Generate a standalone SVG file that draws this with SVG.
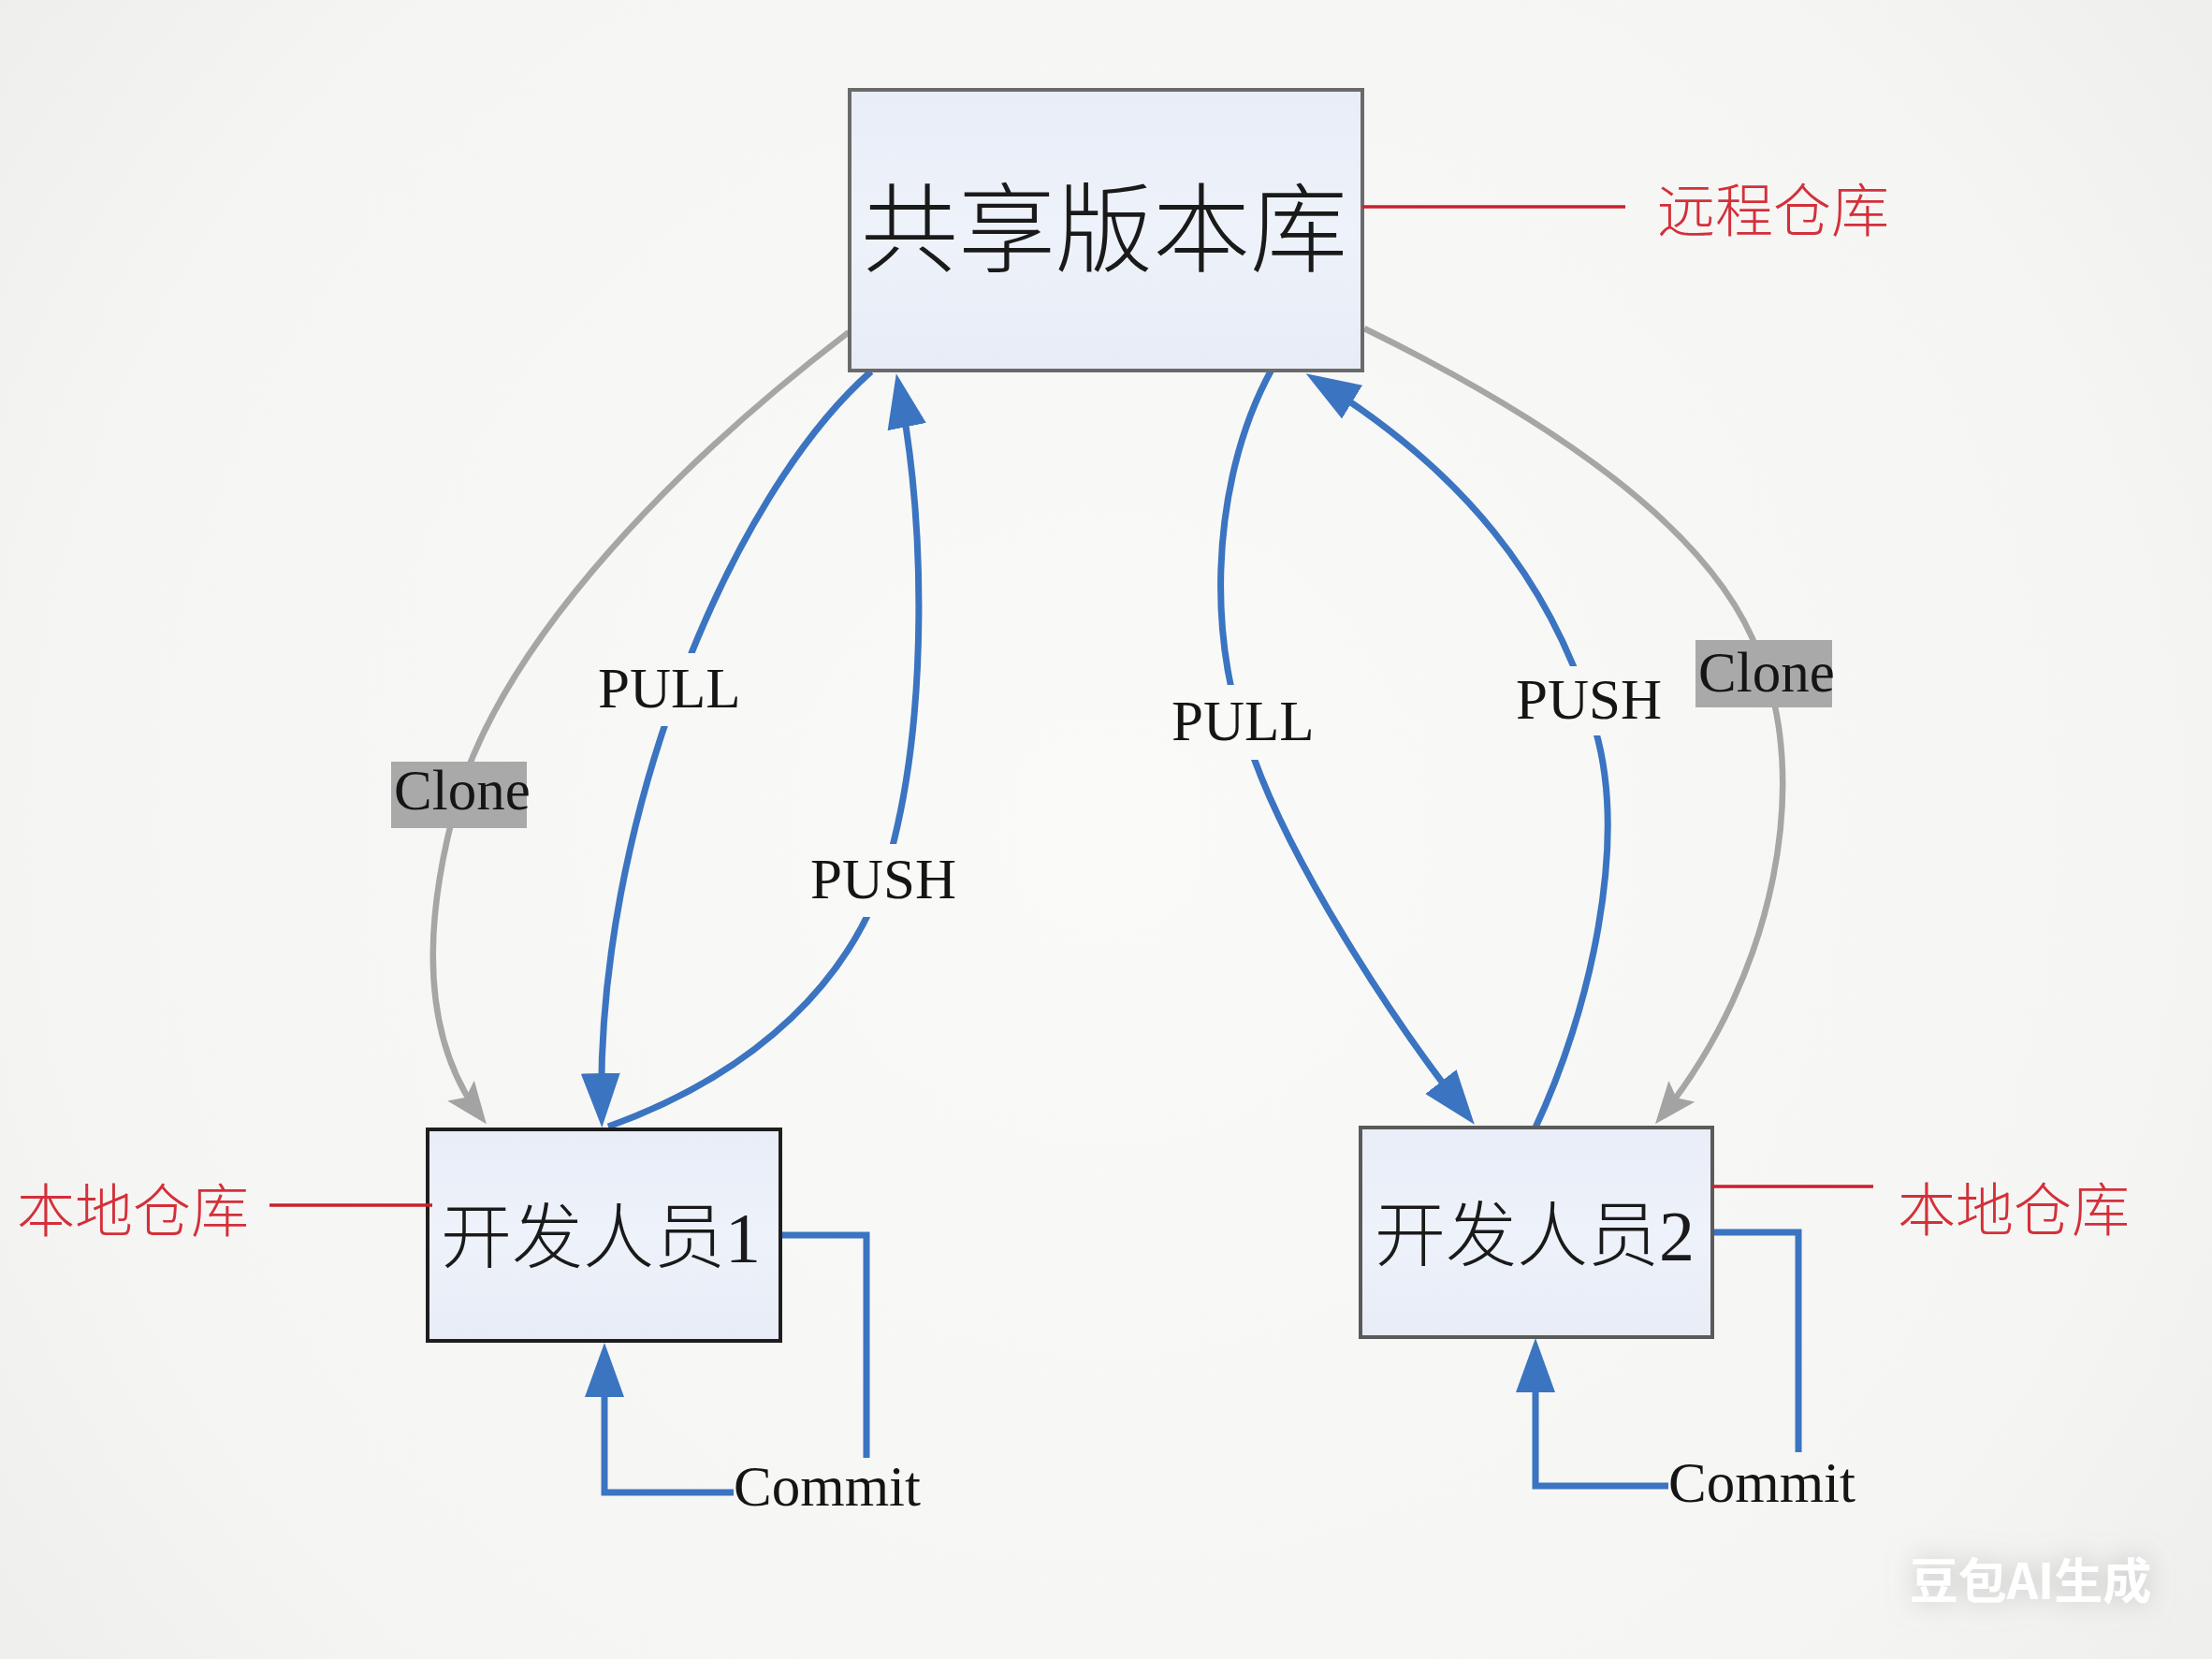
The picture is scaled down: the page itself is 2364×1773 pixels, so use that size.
<svg xmlns="http://www.w3.org/2000/svg" width="2364" height="1773" viewBox="0 0 2364 1773">
<defs>
<radialGradient id="bg" gradientUnits="userSpaceOnUse" cx="1182" cy="886" r="1500">
<stop offset="0" stop-color="#fafaf8"/>
<stop offset="0.75" stop-color="#f5f5f3"/>
<stop offset="1" stop-color="#eeeeec"/>
</radialGradient>
<linearGradient id="boxfill" x1="0" y1="0" x2="0" y2="1">
<stop offset="0" stop-color="#e8edf7"/>
<stop offset="0.5" stop-color="#eef2fa"/>
<stop offset="1" stop-color="#e7ecf6"/>
</linearGradient>
<marker id="ab" markerUnits="userSpaceOnUse" markerWidth="62" markerHeight="46" refX="47" refY="21" orient="auto">
<path d="M0,0 L58,21 L0,42 z" fill="#3b74c1"/>
</marker>
<marker id="ag" markerUnits="userSpaceOnUse" markerWidth="50" markerHeight="40" refX="37" refY="18" orient="auto">
<path d="M0,0 L45,18 L0,36 L9,18 z" fill="#a3a3a3"/>
</marker>
<filter id="wm" x="-30%" y="-60%" width="160%" height="220%">
<feGaussianBlur in="SourceAlpha" stdDeviation="14" result="b"/>
<feFlood flood-color="#9a9a9a" flood-opacity="0.55"/>
<feComposite in2="b" operator="in" result="s"/>
<feMerge><feMergeNode in="s"/><feMergeNode in="SourceGraphic"/></feMerge>
</filter>
</defs>
<style>
.box{fill:url(#boxfill);stroke-width:4}
.cjk{font-family:"Liberation Serif","Noto Sans CJK SC",serif;fill:#1a1a1a;font-weight:300}
.red{font-family:"Noto Sans CJK SC",sans-serif;fill:#d3303a;font-size:62px;font-weight:300}
.redline{stroke:#c8202c;stroke-width:3.5;fill:none}
.lat{font-family:"Liberation Serif",serif;fill:#151515;font-size:61px}
.blue{stroke:#3b74c1;stroke-width:7;fill:none}
.gray{stroke:#a6a6a6;stroke-width:6.5;fill:none}
.gap{fill:url(#bg)}
.clonebox{fill:#a9a9a9}
</style>
<rect x="0" y="0" width="2364" height="1773" fill="url(#bg)"/>

<g id="connectors">
<path id="clone-left" class="gray" d="M 907 355 C 730 490, 545 675, 490 850 C 450 990, 450 1110, 515 1195" marker-end="url(#ag)"/>
<path id="clone-right" class="gray" d="M 1458 351 C 1640 440, 1830 560, 1880 700 C 1935 830, 1900 1040, 1774 1195" marker-end="url(#ag)"/>
<path id="pull-left" class="blue" d="M 931 397 C 780 530, 635 880, 643 1194" marker-end="url(#ab)"/>
<path id="push-left" class="blue" d="M 650 1204 C 800 1150, 920 1050, 955 900 C 990 760, 990 560, 960 410" marker-end="url(#ab)"/>
<path id="pull-right" class="blue" d="M 1359 395 C 1290 520, 1290 700, 1340 810 C 1380 920, 1480 1080, 1569 1193" marker-end="url(#ab)"/>
<path id="push-right" class="blue" d="M 1640 1207 C 1700 1080, 1740 900, 1705 780 C 1660 620, 1560 500, 1405 405" marker-end="url(#ab)"/>
<path id="commit-1-out" class="blue" d="M 834 1320 H 926 V 1558"/>
<path id="commit-1-in" class="blue" d="M 784 1595 H 646 V 1446" marker-end="url(#ab)"/>
<path id="commit-2-out" class="blue" d="M 1830 1317 H 1922 V 1552"/>
<path id="commit-2-in" class="blue" d="M 1783 1588 H 1641 V 1441" marker-end="url(#ab)"/>

<rect class="gap" x="635" y="698" width="160" height="78"/>
<text class="lat" x="639" y="756">PULL</text>
<rect class="gap" x="862" y="902" width="162" height="78"/>
<text class="lat" x="866" y="960">PUSH</text>
<rect class="gap" x="1248" y="732" width="162" height="80"/>
<text class="lat" x="1252" y="791">PULL</text>
<rect class="gap" x="1617" y="712" width="156" height="74"/>
<text class="lat" x="1620" y="768">PUSH</text>

<rect class="clonebox" x="418" y="814" width="145" height="71"/>
<text class="lat" x="421" y="865" font-size="57">Clone</text>
<rect class="clonebox" x="1812" y="684" width="146" height="72"/>
<text class="lat" x="1815" y="739" font-size="57">Clone</text>

<text class="lat" x="784" y="1609" font-size="60">Commit</text>
<text class="lat" x="1783" y="1605" font-size="60">Commit</text>
</g>

<g id="node-remote">
<rect class="box" x="908" y="96" width="548" height="300" stroke="#6a6a6a"/>
<text class="cjk" x="1180" y="283" font-size="104" text-anchor="middle">共享版本库</text>
</g>
<g id="node-dev1">
<rect class="box" x="457" y="1207" width="377" height="226" stroke="#1e1e1e"/>
<text class="cjk" x="642" y="1349" font-size="76" text-anchor="middle">开发人员1</text>
</g>
<g id="node-dev2">
<rect class="box" x="1454" y="1205" width="376" height="224" stroke="#5a5a5a"/>
<text class="cjk" x="1640" y="1347" font-size="76" text-anchor="middle">开发人员2</text>
</g>

<g id="annotation-remote">
<path class="redline" d="M 1456 221 H 1737"/>
<text class="red" x="1895" y="248" text-anchor="middle">远程仓库</text>
</g>
<g id="annotation-local1">
<path class="redline" d="M 288 1288 H 462"/>
<text class="red" x="142" y="1317" text-anchor="middle">本地仓库</text>
</g>
<g id="annotation-local2">
<path class="redline" d="M 1830 1268 H 2002"/>
<text class="red" x="2152" y="1316" text-anchor="middle">本地仓库</text>
</g>

<g id="watermark" filter="url(#wm)">
<text x="2170" y="1709" font-family="'Noto Sans CJK SC',sans-serif" font-weight="bold" font-size="52" fill="#ffffff" text-anchor="middle">豆包AI生成</text>
</g>
</svg>
